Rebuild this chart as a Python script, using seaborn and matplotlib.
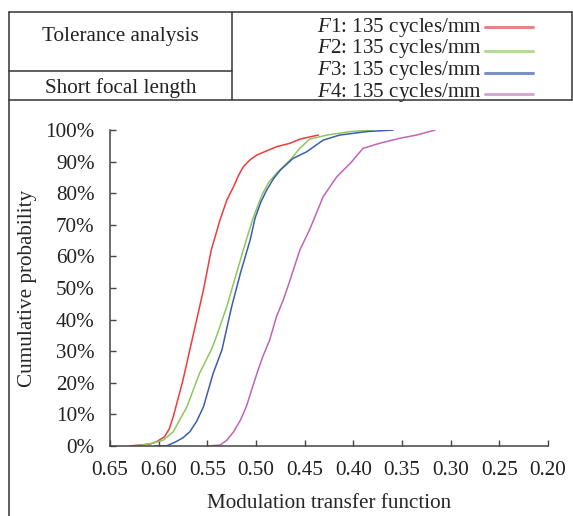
import matplotlib
matplotlib.use("Agg")
import matplotlib.pyplot as plt
from matplotlib.lines import Line2D
import seaborn as sns
import pandas as pd

# ---------------- data ----------------
series_names = ["F1", "F2", "F3", "F4"]
series_colors = ["#ee3b3b", "#8cc85e", "#3b5db0", "#c064b8"]
legend_colors = ["#e98282", "#b3d99b", "#7c8fc9", "#d9a6d6"]
legend_labels = ["$F$1: 135 cycles/mm", "$F$2: 135 cycles/mm",
                 "$F$3: 135 cycles/mm", "$F$4: 135 cycles/mm"]

f1_mtf = [0.630, 0.609, 0.602, 0.594, 0.589, 0.585, 0.575, 0.568, 0.561, 0.554, 0.546,
          0.537, 0.530, 0.523, 0.518, 0.513, 0.506, 0.499, 0.479, 0.465, 0.455, 0.436]
f1_cum = [0.0, 0.6, 1.4, 2.9, 5.5, 9.3, 20.9, 30.4, 39.9, 49.4, 62.0,
          71.5, 77.8, 82.1, 85.6, 88.4, 90.6, 92.1, 94.7, 95.8, 97.1, 98.4]

f2_mtf = [0.623, 0.606, 0.595, 0.585, 0.571, 0.558, 0.546, 0.542, 0.530, 0.520,
          0.510, 0.503, 0.496, 0.493, 0.487, 0.479, 0.465, 0.455, 0.445, 0.427, 0.403, 0.380]
f2_cum = [0.0, 0.9, 1.9, 4.5, 12.4, 23.0, 30.4, 33.5, 44.1, 54.7,
          65.2, 72.1, 77.8, 80.0, 83.4, 86.3, 90.5, 94.2, 97.1, 98.4, 99.5, 100.0]

f3_mtf = [0.604, 0.592, 0.582, 0.575, 0.568, 0.561, 0.554, 0.544, 0.535, 0.525, 0.516, 0.506,
          0.501, 0.495, 0.489, 0.482, 0.475, 0.462, 0.448, 0.431, 0.414, 0.386, 0.359]
f3_cum = [0.0, 0.0, 1.4, 2.6, 4.5, 7.8, 12.4, 23.0, 30.4, 44.1, 54.7, 65.2,
          72.1, 77.2, 81.0, 84.6, 87.3, 91.0, 93.1, 96.8, 98.4, 99.5, 100.0]

f4_mtf = [0.549, 0.537, 0.530, 0.523, 0.516, 0.510, 0.499, 0.493, 0.486, 0.479, 0.472, 0.465,
          0.455, 0.445, 0.431, 0.417, 0.403, 0.390, 0.373, 0.352, 0.335, 0.316]
f4_cum = [0.0, 0.3, 1.8, 4.5, 8.2, 12.4, 23.0, 28.3, 33.5, 40.9, 46.2, 52.5,
          62.0, 68.4, 78.9, 85.2, 89.5, 94.2, 95.8, 97.4, 98.4, 100.0]

x_ticks = [0.65, 0.60, 0.55, 0.50, 0.45, 0.40, 0.35, 0.30, 0.25, 0.20]
x_tick_labels = ["0.65", "0.60", "0.55", "0.50", "0.45", "0.40", "0.35", "0.30", "0.25", "0.20"]
y_ticks = [0, 10, 20, 30, 40, 50, 60, 70, 80, 90, 100]
y_tick_labels = ["0%", "10%", "20%", "30%", "40%", "50%", "60%", "70%", "80%", "90%", "100%"]

header_left = ["Tolerance analysis", "Short focal length"]
x_label = "Modulation transfer function"
y_label = "Cumulative probability"

# ---------------- build frame ----------------
all_x = [f1_mtf, f2_mtf, f3_mtf, f4_mtf]
all_y = [f1_cum, f2_cum, f3_cum, f4_cum]
rows = []
for name, xs, ys in zip(series_names, all_x, all_y):
    for i, (xv, yv) in enumerate(zip(xs, ys)):
        rows.append({"series": name, "order": i, "mtf": xv, "cum": yv})
df = pd.DataFrame(rows)

# ---------------- style ----------------
sns.set_style("ticks")
plt.rcParams["font.family"] = ["Liberation Serif", "DejaVu Serif"]
plt.rcParams["mathtext.fontset"] = "custom"
plt.rcParams["mathtext.rm"] = "Liberation Serif"
plt.rcParams["mathtext.it"] = "Liberation Serif:italic"
plt.rcParams["text.color"] = "#222222"

FS = 15.2
W, H = 573, 516
fig = plt.figure(figsize=(W / 100, H / 100), dpi=100)
fig.patch.set_facecolor("white")

def fx(px):
    return px / W

def fy(py):
    return 1 - py / H

ax_l, ax_r, ax_b, ax_t = 110, 548, 446, 130
ax = fig.add_axes([fx(ax_l), fy(ax_b), (ax_r - ax_l) / W, (ax_b - ax_t) / H])

sns.lineplot(data=df, x="mtf", y="cum", hue="series", units="series",
             estimator=None, sort=False, palette=dict(zip(series_names, series_colors)),
             linewidth=1.1, legend=False, ax=ax)

ax.set_xlim(0.65, 0.20)
ax.set_ylim(0, 100)
ax.set_xticks(x_ticks)
ax.set_xticklabels(x_tick_labels)
ax.set_yticks(y_ticks)
ax.set_yticklabels(y_tick_labels)
ax.tick_params(axis="both", direction="in", length=4, width=1.0, color="#444444",
               labelsize=FS, labelcolor="#222222")
ax.tick_params(axis="x", pad=11)
ax.tick_params(axis="y", pad=11)
for side in ["top", "right"]:
    ax.spines[side].set_visible(False)
for side in ["left", "bottom"]:
    ax.spines[side].set_color("#444444")
    ax.spines[side].set_linewidth(1.1)

ax.set_xlabel(x_label, fontsize=FS, va="center")
ax.xaxis.set_label_coords(0.5, (ax_b - 503) / (ax_b - ax_t))
ax.set_ylabel(y_label, fontsize=FS, va="center")
ax.yaxis.set_label_coords((28 - ax_l) / (ax_r - ax_l), 0.5)

# ---------------- header table ----------------
lc = "#333333"
lw = 1.1
tbl_left, tbl_right, tbl_top, tbl_bot, tbl_div, tbl_mid = 9, 572, 12, 100, 232, 71
segments = [
    ((tbl_left, tbl_top), (tbl_right, tbl_top)),
    ((tbl_left, tbl_bot), (tbl_right, tbl_bot)),
    ((tbl_left, tbl_top), (tbl_left, H + 2)),
    ((tbl_right, tbl_top), (tbl_right, tbl_bot)),
    ((tbl_div, tbl_top), (tbl_div, tbl_bot)),
    ((tbl_left, tbl_mid), (tbl_div, tbl_mid)),
]
for (x0, y0), (x1, y1) in segments:
    fig.add_artist(Line2D([fx(x0), fx(x1)], [fy(y0), fy(y1)], color=lc, lw=lw,
                          transform=fig.transFigure))

fig.text(fx((tbl_left + tbl_div) / 2), fy(37), header_left[0], ha="center", va="center", fontsize=FS)
fig.text(fx((tbl_left + tbl_div) / 2), fy(88), header_left[1], ha="center", va="center", fontsize=FS)

text_baselines = [32, 53.5, 75, 96.5]
line_ys = [26.5, 50.5, 73, 94]
for lab, col, yb, yl in zip(legend_labels, legend_colors, text_baselines, line_ys):
    fig.text(fx(482), fy(yb), lab, ha="right", va="baseline", fontsize=FS)
    fig.add_artist(Line2D([fx(485), fx(533)], [fy(yl), fy(yl)], color=col, lw=2.2,
                          transform=fig.transFigure))

fig.savefig("out.png", dpi=100, facecolor="white")
